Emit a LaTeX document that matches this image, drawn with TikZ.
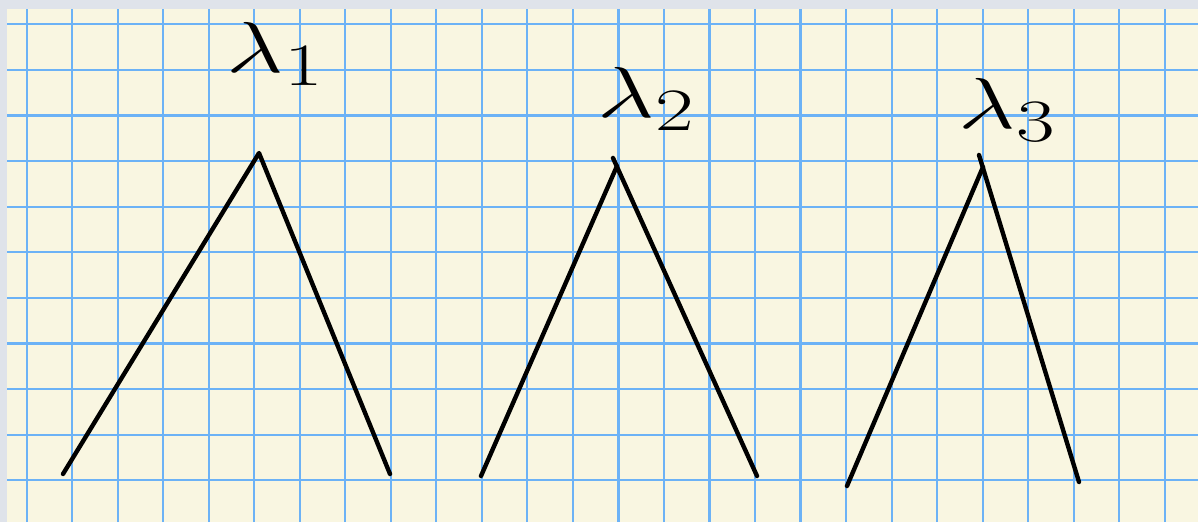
\documentclass[tikz,border=0pt]{standalone}
\usepackage{amsmath,amssymb}
\usepackage{xcolor,tikz}
\usetikzlibrary{positioning}
\definecolor{paper}{RGB}{249,246,225}
\definecolor{frame}{RGB}{223,227,234}
\definecolor{gridblue}{RGB}{108,178,246}

\begin{document}
\begin{tikzpicture}[x=0.02cm,y=0.02cm,
  stroke/.style={line width=2.5pt,line cap=round,line join=round},
  gridline/.style={gridblue,line width=1.2pt},
  lab/.style={inner sep=0pt,anchor=base west,xscale=2.3,yscale=1.65,font=\Huge}]
\useasboundingbox (0,0) rectangle (1198,522);
\fill[frame] (0,0) rectangle (1198,522);
\fill[paper] (7,0) rectangle (1198,513);
\foreach \k in {0,...,25} {\draw[gridline] ({26.7+45.52*\k},0) -- ({26.7+45.52*\k},513);}
\foreach \k in {0,...,10} {\draw[gridline] (7,{497.7-45.6*\k}) -- (1198,{497.7-45.6*\k});}
% the three peaks
\coordinate (footL1) at (63,48);
\coordinate (top1) at (259,369);
\coordinate (footR1) at (390,48);
\coordinate (footL2) at (481,46);
\coordinate (top2) at (617,356);
\coordinate (tick2) at (613,364);
\coordinate (footR2) at (757,46);
\coordinate (footL3) at (847,36);
\coordinate (top3) at (983,355);
\coordinate (tick3) at (979,367);
\coordinate (footR3) at (1079,40);
\draw[stroke] (footL1) -- (top1) -- (footR1);
\draw[stroke] (footL2) -- (top2);
\draw[stroke] (tick2) -- (footR2);
\draw[stroke] (footL3) -- (top3);
\draw[stroke] (tick3) -- (footR3);
% labels
\node[lab] (lam1) at (226,450) {$\lambda_1$};
\node[lab] (lam2) at (597,405) {$\lambda_2$};
\node[lab] (lam3) at (958,394) {$\lambda_3$};
\end{tikzpicture}
\end{document}
